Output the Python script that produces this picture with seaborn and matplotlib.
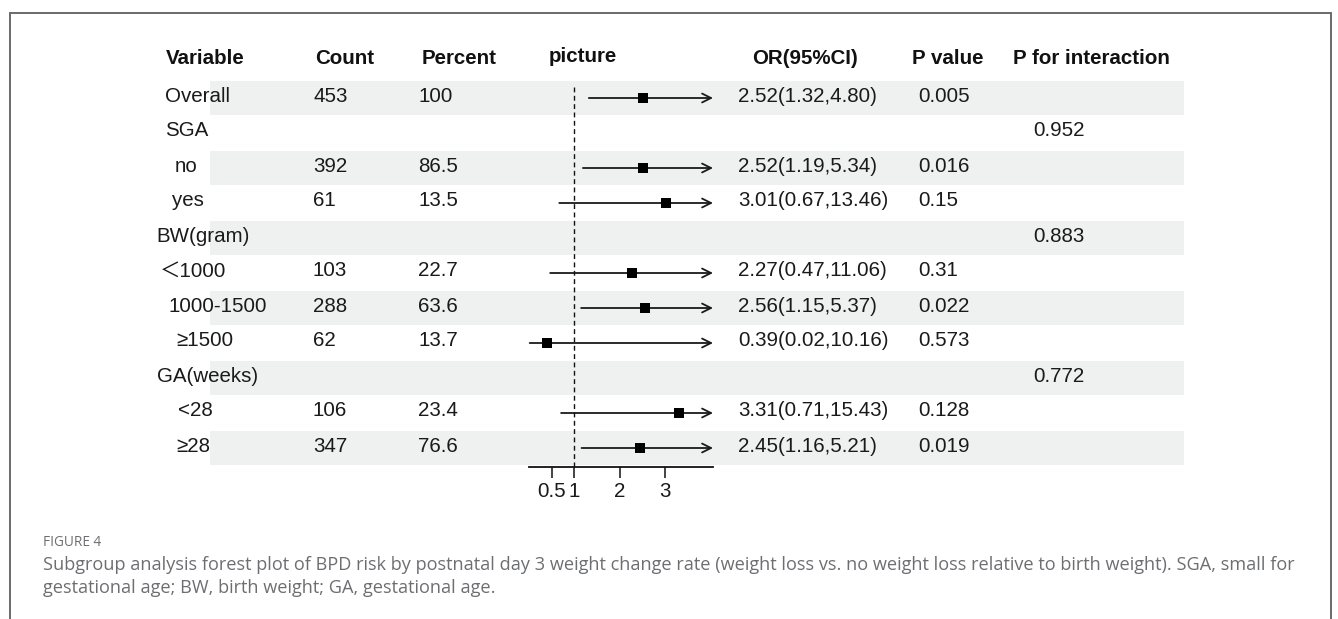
import numpy as np
import pandas as pd
import matplotlib
matplotlib.use("Agg")
import matplotlib.pyplot as plt
import seaborn as sns

# ---- table content -------------------------------------------------------
labels = ["Overall", "SGA", "no", "yes", "BW(gram)", "＜1000", "1000-1500",
          "≥1500", "GA(weeks)", "<28", "≥28"]
counts = ["453", "", "392", "61", "", "103", "288", "62", "", "106", "347"]
percents = ["100", "", "86.5", "13.5", "", "22.7", "63.6", "13.7", "", "23.4", "76.6"]
or_est = [2.52, np.nan, 2.52, 3.01, np.nan, 2.27, 2.56, 0.39, np.nan, 3.31, 2.45]
ci_low = [1.32, np.nan, 1.19, 0.67, np.nan, 0.47, 1.15, 0.02, np.nan, 0.71, 1.16]
ci_high = [4.80, np.nan, 5.34, 13.46, np.nan, 11.06, 5.37, 10.16, np.nan, 15.43, 5.21]
p_values = ["0.005", "", "0.016", "0.15", "", "0.31", "0.022", "0.573", "", "0.128", "0.019"]
p_interaction = ["", "0.952", "", "", "0.883", "", "", "", "0.772", "", ""]
headers = ["Variable", "Count", "Percent", "picture", "OR(95%CI)", "P value",
           "P for interaction"]
x_ticks = [0.5, 1, 2, 3]
x_tick_labels = ["0.5", "1", "2", "3"]

df = pd.DataFrame({"label": labels, "count": counts, "pct": percents,
                   "est": or_est, "lo": ci_low, "hi": ci_high,
                   "p": p_values, "pint": p_interaction})
df["row"] = np.arange(len(df))

# ---- style ---------------------------------------------------------------
sns.set_theme(style="white")
plt.rcParams["font.family"] = ["Liberation Sans", "Noto Sans CJK SC", "DejaVu Sans"]
FS = 14.8
W, H = 1338, 619
fig = plt.figure(figsize=(W / 100, H / 100), dpi=100)

# background canvas in pixel units (bands, table text, caption, frame)
bg = fig.add_axes([0, 0, 1, 1])
bg.set_xlim(0, W)
bg.set_ylim(H, 0)
bg.axis("off")

row0, pitch = 98, 35          # pixel centre of first row, row spacing
def row_y(i):
    return row0 + pitch * i

band_color = "#eef1f0"
for i in df["row"]:
    if i % 2 == 0:
        bg.add_patch(plt.Rectangle((210, row_y(i) - 17), 1184 - 210, 34,
                                   color=band_color, lw=0, zorder=0))

# frame
frame_kw = dict(color="#6a6a6a", lw=1.4, zorder=5)
bg.plot([10, 1331], [13, 13], **frame_kw)
bg.plot([10, 10], [13, H], **frame_kw)
bg.plot([1331, 1331], [13, H], **frame_kw)

# headers
header_x = [166, 315, 422, 549, 752, 912, 1013]
for hx, htxt in zip(header_x, headers):
    dy = -2 if htxt == "picture" else 0
    bg.text(hx, 64 + dy, htxt, fontsize=FS, fontweight="bold", color="#111111",
            va="baseline", ha="left")

# row labels and columns
label_x = [165, 165, 175, 172, 156, 160, 168, 176, 157, 178, 176]
txt_kw = dict(fontsize=FS, color="#1a1a1a", va="baseline", ha="left")
for _, r in df.iterrows():
    yb = row_y(r["row"]) + 3.5
    bg.text(label_x[r["row"]], yb, r["label"], **txt_kw)
    bg.text(313, yb, r["count"], **txt_kw)
    bg.text(418, yb, r["pct"], **txt_kw)
    if not np.isnan(r["est"]):
        bg.text(738, yb, f"{r['est']:.2f}({r['lo']:.2f},{r['hi']:.2f})", **txt_kw)
    bg.text(918, yb, r["p"], **txt_kw)
    bg.text(1033, yb, r["pint"], **txt_kw)

# caption
cap_color = "#6d6e71"
cap_kw = dict(color=cap_color, family="Open Sans", va="baseline", ha="left")
bg.text(43, 546, "FIGURE 4", fontsize=9.8, **cap_kw)
bg.text(43, 570, "Subgroup analysis forest plot of BPD risk by postnatal day 3 weight "
        "change rate (weight loss vs. no weight loss relative to birth weight). "
        "SGA, small for", fontsize=13.1, **cap_kw)
bg.text(43, 593, "gestational age; BW, birth weight; GA, gestational age.",
        fontsize=13.1, **cap_kw)

# ---- forest panel ----------------------------------------------------------
x_min, x_max = 0.0, 4.05
px_left, px_right = 528.8, 713
axis_px = 467
top_row = -1.5
bottom_row = (axis_px - row0) / pitch
ax_top_px = row0 + pitch * top_row
ax = fig.add_axes([px_left / W, 1 - axis_px / H, (px_right - px_left) / W,
                   (axis_px - ax_top_px) / H])
ax.set_facecolor("none")
ax.set_xlim(x_min, x_max)
ax.set_ylim(bottom_row, top_row)

est = df.dropna(subset=["est"])
# reference line at OR = 1
ax.plot([1, 1], [-0.3, bottom_row], color="#111111", lw=1.0,
        linestyle=(0, (3.5, 2.5)), zorder=1)
# confidence intervals, clipped at the panel edge with an arrow head
for _, r in est.iterrows():
    hi = min(r["hi"], x_max)
    style = "->" if r["hi"] > x_max else "-"
    ax.annotate("", xy=(hi, r["row"]), xytext=(r["lo"], r["row"]),
                arrowprops=dict(arrowstyle=style, lw=1.3, color="#1a1a1a",
                                shrinkA=0, shrinkB=0, mutation_scale=16),
                zorder=2)
sns.scatterplot(data=est, x="est", y="row", marker="s", s=42, color="black",
                edgecolor="black", linewidth=0, ax=ax, zorder=3, legend=False)

ax.set_xlabel("")
ax.set_ylabel("")
ax.set_yticks([])
ax.set_xticks(x_ticks)
ax.set_xticklabels(x_tick_labels)
for s in ["top", "right", "left"]:
    ax.spines[s].set_visible(False)
ax.spines["bottom"].set_color("#111111")
ax.spines["bottom"].set_linewidth(1.3)
ax.tick_params(axis="x", direction="out", length=8, width=1.1, color="#111111",
               labelsize=FS, labelcolor="#1a1a1a", pad=3, bottom=True)

fig.savefig("out.png", dpi=100)
